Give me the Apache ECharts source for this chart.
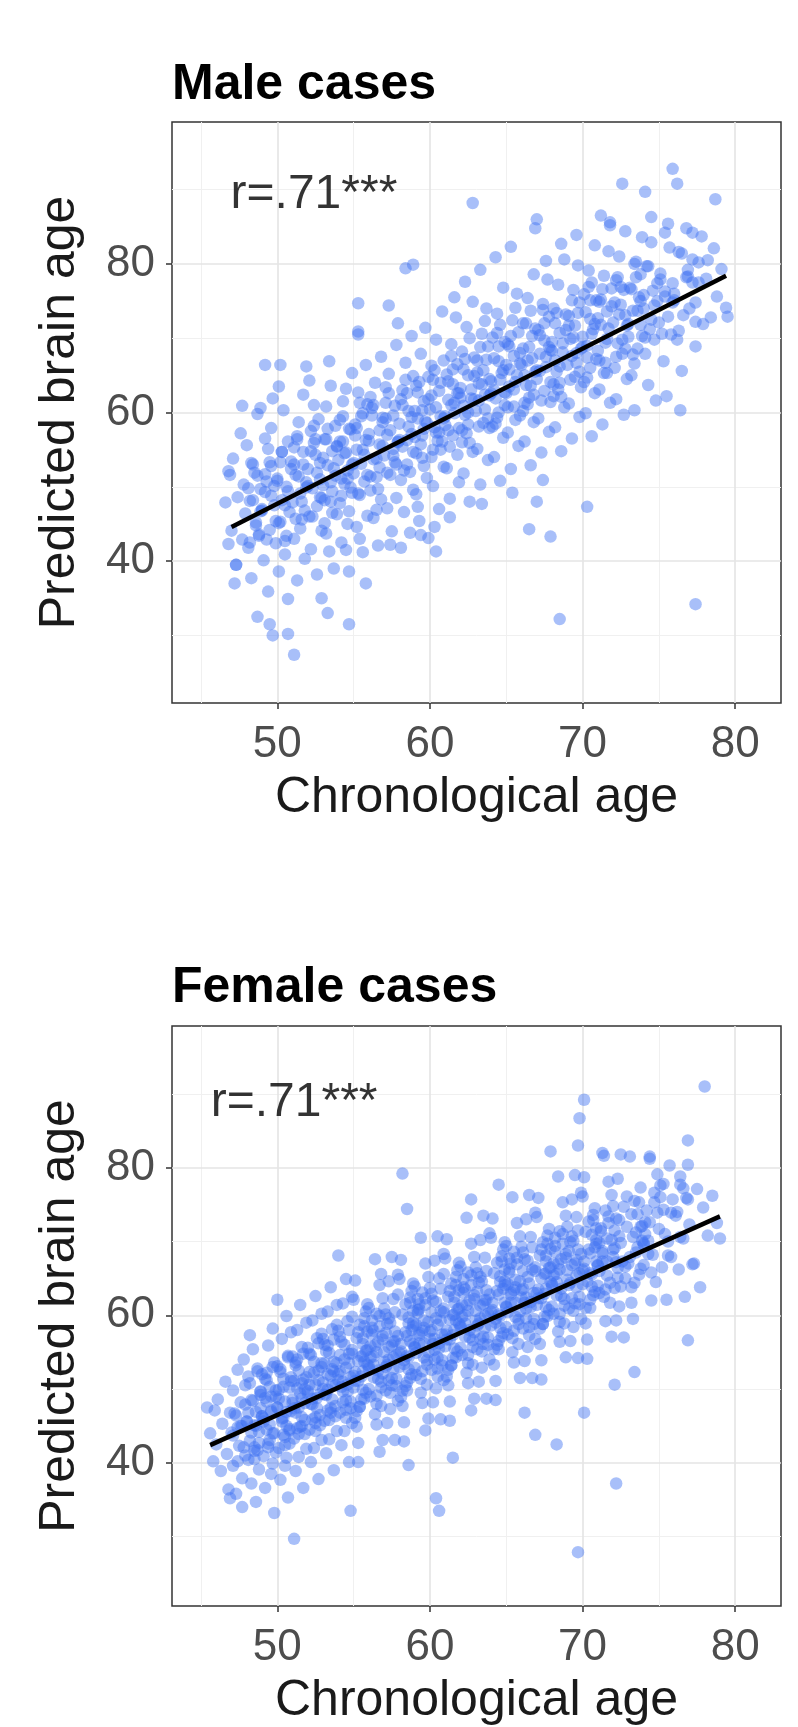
<!DOCTYPE html>
<html style="height: 100%">
<head>
	<meta charset="utf-8">
</head>
<body style="height: 100%; margin: 0; background: #fff">
<div id="container" style="width: 798px; height: 1727px"></div>
<script type="text/javascript" src="https://cdn.jsdelivr.net/npm/echarts@6/dist/echarts.min.js"></script>
<script type="text/javascript">
    // axis ticks and grid lines
    var xTicks = [50, 60, 70, 80];
    var xMinor = [45, 55, 65, 75];
    var yTicks = [40, 60, 80];
    var yMinor = [30, 50, 70, 90];

    var panelTitles = ['Male cases', 'Female cases'];
    var corrText = ['r=.71***', 'r=.71***'];

    // fitted lines (end points)
    var maleFit = [[47.0, 44.6], [79.4, 78.4]];
    var femaleFit = [[45.6, 42.4], [79.0, 73.4]];

    // points (chronological age, predicted brain age)
    var malePoints = [
        [46.6,47.9],[46.8,42.3],[46.9,51.6],
        [47.0,44.1],[47.1,53.8],[47.3,39.5],[47.4,48.6],[47.6,57.2],[47.7,42.9],[47.8,50.3],[47.9,46.4],
        [48.0,55.6],[48.1,41.8],[48.2,48.1],[48.3,37.7],[48.5,51.9],[48.6,45.2],[48.7,59.8],[48.8,43.4],[48.9,49.7],[48.4,53.0],
        [49.0,46.8],[49.1,40.1],[49.2,56.5],[49.3,50.7],[49.4,35.9],[49.5,44.2],[49.6,52.8],[49.7,61.9],[49.8,47.5],[49.9,42.4],[49.2,49.3],[49.6,57.9],
        [50.0,51.1],[50.1,38.6],[50.2,45.3],[50.3,54.7],[50.3,48.2],[50.4,60.3],[50.5,42.7],[50.6,50.0],[50.7,34.9],[50.7,56.1],[50.8,46.6],[50.9,53.4],[50.1,63.5],[50.5,40.9],
        [51.0,47.9],[51.1,55.3],[51.1,43.0],[51.2,51.6],[51.3,37.4],[51.4,58.7],[51.5,49.1],[51.6,45.6],[51.7,62.4],[51.7,53.0],[51.8,40.3],[51.9,50.6],[51.3,56.8],[51.5,44.4],[51.9,66.2],
        [52.0,52.4],[52.1,46.0],[52.2,57.5],[52.2,41.6],[52.3,49.8],[52.4,61.0],[52.5,54.3],[52.6,38.2],[52.6,47.4],[52.7,59.1],[52.8,51.0],[52.9,44.1],[52.1,64.3],[52.4,55.9],[52.8,48.6],[52.9,35.0],
        [53.0,50.2],[53.1,56.4],[53.1,45.1],[53.2,60.8],[53.3,52.9],[53.4,41.3],[53.5,48.0],[53.5,63.6],[53.6,54.8],[53.7,39.0],[53.8,51.5],[53.8,58.2],[53.9,46.3],[53.2,43.7],[53.4,66.9],[53.6,49.4],[53.9,55.4],
        [54.0,53.6],[54.1,47.8],[54.1,59.0],[54.2,42.5],[54.3,56.1],[54.4,50.4],[54.5,63.2],[54.6,45.0],[54.6,52.2],[54.7,38.6],[54.8,57.7],[54.9,49.2],[54.3,61.5],[54.5,54.6],[54.7,46.7],[54.9,65.3],[54.2,51.1],
        [55.0,51.8],[55.1,58.4],[55.2,44.6],[55.2,55.0],[55.3,62.7],[55.4,48.9],[55.5,53.1],[55.6,41.2],[55.6,59.9],[55.7,50.7],[55.8,66.4],[55.9,46.1],[55.1,56.9],[55.4,43.0],[55.7,54.3],[55.9,61.1],[55.3,70.5],
        [56.0,56.2],[56.1,49.5],[56.2,60.6],[56.3,45.8],[56.3,53.7],[56.4,64.0],[56.5,51.3],[56.6,42.1],[56.7,57.6],[56.8,48.3],[56.8,67.5],[56.9,55.5],[56.1,62.1],[56.5,46.9],[56.7,52.6],[56.9,59.3],
        [57.0,54.2],[57.1,61.3],[57.2,47.1],[57.2,57.0],[57.3,65.2],[57.4,51.6],[57.5,44.0],[57.6,59.6],[57.7,53.3],[57.8,69.1],[57.8,48.5],[57.9,56.0],[57.1,63.4],[57.4,42.2],[57.6,55.1],[57.9,72.0],
        [58.0,58.5],[58.1,50.9],[58.2,63.0],[58.2,55.4],[58.3,46.6],[58.4,66.7],[58.5,53.0],[58.6,60.2],[58.7,43.8],[58.8,57.1],[58.8,70.3],[58.9,49.6],[58.1,61.8],[58.5,56.3],[58.7,52.0],[58.9,64.9],
        [59.0,56.7],[59.1,63.6],[59.1,49.0],[59.2,59.2],[59.3,45.4],[59.4,67.9],[59.5,53.9],[59.6,61.5],[59.6,57.8],[59.7,71.4],[59.8,51.2],[59.9,64.8],[59.2,47.3],[59.4,55.7],[59.5,60.3],[59.8,58.6],[59.9,43.1],
        [60.0,60.4],[60.1,54.0],[60.1,66.3],[60.2,50.1],[60.3,58.0],[60.4,69.8],[60.5,56.2],[60.6,62.9],[60.6,47.0],[60.7,59.5],[60.8,73.6],[60.9,52.7],[60.2,64.4],[60.4,57.3],[60.7,55.0],[60.9,67.0],[60.3,44.6],
        [61.0,58.3],[61.1,65.1],[61.1,52.5],[61.2,61.7],[61.3,48.4],[61.4,69.2],[61.5,56.9],[61.5,63.8],[61.6,59.9],[61.7,72.8],[61.8,54.3],[61.8,66.5],[61.9,50.6],[61.2,57.6],[61.4,61.0],[61.6,75.5],[61.9,62.6],[61.3,45.9],
        [62.0,62.0],[62.1,56.0],[62.1,68.2],[62.2,51.8],[62.3,59.7],[62.4,71.5],[62.5,65.0],[62.5,58.4],[62.6,48.0],[62.7,63.1],[62.8,74.9],[62.8,54.7],[62.9,67.4],[62.2,60.9],[62.4,57.2],[62.6,70.0],[62.9,61.8],[62.3,77.6],
        [63.0,60.2],[63.1,67.0],[63.1,55.1],[63.2,63.9],[63.3,50.3],[63.4,70.6],[63.5,58.6],[63.5,65.7],[63.6,62.4],[63.7,74.0],[63.8,53.6],[63.8,68.9],[63.9,57.9],[63.2,61.6],[63.4,47.7],[63.6,72.3],[63.9,64.5],[63.3,79.2],
        [64.0,64.2],[64.1,58.1],[64.1,70.1],[64.2,54.0],[64.3,61.9],[64.4,73.3],[64.5,66.9],[64.5,60.0],[64.6,50.8],[64.7,65.3],[64.8,76.8],[64.8,56.6],[64.9,69.5],[64.2,63.0],[64.4,59.3],[64.6,71.8],[64.9,62.7],[64.3,80.9],
        [65.0,62.6],[65.1,69.2],[65.1,57.3],[65.2,65.8],[65.3,52.4],[65.4,72.4],[65.5,60.8],[65.5,67.6],[65.6,64.1],[65.7,76.0],[65.8,55.5],[65.8,70.8],[65.9,59.6],[65.2,63.5],[65.4,49.2],[65.6,74.1],[65.9,66.6],[65.3,82.3],
        [66.0,66.4],[66.1,60.2],[66.1,72.0],[66.2,56.1],[66.3,63.7],[66.4,75.4],[66.5,68.8],[66.5,62.0],[66.6,52.9],[66.7,67.3],[66.8,78.6],[66.8,58.7],[66.9,71.3],[66.2,65.0],[66.4,61.1],[66.6,73.7],[66.9,84.8],
        [67.0,64.5],[67.1,71.1],[67.1,59.2],[67.2,67.9],[67.3,54.6],[67.4,74.6],[67.5,62.9],[67.5,69.7],[67.6,66.1],[67.7,77.9],[67.8,57.4],[67.8,72.9],[67.9,61.4],[67.2,65.6],[67.4,50.9],[67.6,80.4],[67.9,68.4],
        [68.0,68.3],[68.1,62.2],[68.1,74.0],[68.2,58.0],[68.3,65.5],[68.4,77.2],[68.5,70.7],[68.5,64.0],[68.6,54.8],[68.7,69.3],[68.8,80.6],[68.8,60.7],[68.9,73.2],[68.2,67.0],[68.4,63.1],[68.6,82.7],
        [69.0,66.4],[69.1,73.0],[69.1,61.2],[69.2,69.9],[69.3,56.5],[69.4,76.5],[69.5,64.8],[69.5,71.7],[69.6,68.0],[69.7,79.8],[69.8,59.4],[69.8,74.8],[69.9,63.4],[69.3,67.6],[69.6,83.9],
        [70.0,70.2],[70.1,64.1],[70.1,75.9],[70.2,59.9],[70.3,67.4],[70.4,79.1],[70.5,72.6],[70.5,66.0],[70.6,56.8],[70.7,71.2],[70.8,82.5],[70.8,62.6],[70.9,75.1],[70.3,69.0],[70.6,77.5],
        [71.0,68.3],[71.1,74.9],[71.1,63.1],[71.2,71.8],[71.3,58.4],[71.4,78.4],[71.5,66.7],[71.6,73.6],[71.6,69.9],[71.7,81.7],[71.8,61.3],[71.9,76.7],[71.4,65.3],[71.8,85.6],
        [72.0,72.1],[72.1,66.0],[72.2,77.8],[72.2,61.8],[72.3,69.3],[72.4,81.0],[72.5,74.5],[72.6,67.9],[72.7,59.7],[72.8,73.1],[72.8,84.4],[72.9,64.5],[72.5,76.9],
        [73.0,70.2],[73.1,76.8],[73.2,65.0],[73.3,73.7],[73.4,60.3],[73.5,80.3],[73.6,68.6],[73.7,75.5],[73.8,71.8],[73.9,83.6],[73.4,66.6],[73.8,78.6],
        [74.0,74.0],[74.1,67.9],[74.2,79.7],[74.3,63.7],[74.4,71.2],[74.5,82.9],[74.6,76.4],[74.7,69.8],[74.8,61.6],[74.9,75.0],[74.5,86.3],
        [75.0,72.1],[75.1,78.7],[75.3,66.9],[75.4,75.6],[75.5,62.2],[75.7,82.2],[75.8,70.5],[75.9,77.4],[75.6,85.4],
        [76.0,76.0],[76.2,69.8],[76.3,81.6],[76.5,65.6],[76.6,73.1],[76.8,84.8],[76.9,78.3],[76.4,60.3],
        [77.0,74.0],[77.2,80.6],[77.4,68.9],[77.6,77.5],[77.8,83.7],[77.9,71.9],
        [78.1,78.0],[78.4,72.8],[78.6,82.1],[78.8,75.6],[79.1,79.3],[79.4,74.1],
        // denser core of the band
        [48.2,42.5],[48.6,44.8],[48.9,46.7],[48.4,48.2],[48.1,49.8],[48.7,51.5],[48.3,53.2],[48.8,43.6],
        [49.5,53.3],[49.0,47.0],[49.8,50.1],[49.3,42.9],[49.6,48.8],[49.2,51.7],[49.9,45.4],[49.4,55.1],
        [50.7,49.4],[50.3,54.7],[50.1,45.1],[50.9,52.4],[50.5,47.5],[50.0,50.8],[50.6,43.4],[50.2,53.3],
        [51.2,45.7],[51.6,48.0],[51.9,49.9],[51.4,51.4],[51.1,53.0],[51.7,54.7],[51.3,56.4],[51.8,46.8],
        [52.5,56.4],[52.0,50.1],[52.8,53.2],[52.3,46.0],[52.6,51.9],[52.2,54.8],[52.9,48.5],[52.4,58.2],
        [53.7,52.5],[53.3,57.8],[53.1,48.2],[53.9,55.5],[53.5,50.6],[53.0,53.9],[53.6,46.5],[53.2,56.4],
        [54.2,48.8],[54.6,51.1],[54.9,53.0],[54.4,54.5],[54.1,56.1],[54.7,57.8],[54.3,59.5],[54.8,49.9],
        [55.5,59.5],[55.0,53.2],[55.8,56.3],[55.3,49.1],[55.6,55.0],[55.2,57.9],[55.9,51.6],[55.4,61.3],
        [56.7,55.7],[56.3,61.0],[56.1,51.4],[56.9,58.7],[56.5,53.8],[56.0,57.1],[56.6,49.7],[56.2,59.6],
        [57.2,51.9],[57.6,54.2],[57.9,56.1],[57.4,57.6],[57.1,59.2],[57.7,60.9],[57.3,62.6],[57.8,53.0],
        [58.5,62.6],[58.0,56.3],[58.8,59.4],[58.3,52.2],[58.6,58.1],[58.2,61.0],[58.9,54.7],[58.4,64.4],
        [59.7,58.8],[59.3,64.1],[59.1,54.5],[59.9,61.8],[59.5,56.9],[59.0,60.2],[59.6,52.8],[59.2,62.7],
        [60.2,55.0],[60.6,57.3],[60.9,59.2],[60.4,60.7],[60.1,62.3],[60.7,64.0],[60.3,65.7],[60.8,56.1],
        [61.5,65.8],[61.0,59.5],[61.8,62.6],[61.3,55.4],[61.6,61.3],[61.2,64.2],[61.9,57.9],[61.4,67.6],
        [62.7,61.9],[62.3,67.2],[62.1,57.6],[62.9,64.9],[62.5,60.0],[62.0,63.3],[62.6,55.9],[62.2,65.8],
        [63.2,58.1],[63.6,60.4],[63.9,62.3],[63.4,63.8],[63.1,65.4],[63.7,67.1],[63.3,68.8],[63.8,59.2],
        [64.5,68.9],[64.0,62.6],[64.8,65.7],[64.3,58.5],[64.6,64.4],[64.2,67.3],[64.9,61.0],[64.4,70.7],
        [65.7,65.0],[65.3,70.3],[65.1,60.7],[65.9,68.0],[65.5,63.1],[65.0,66.4],[65.6,59.0],[65.2,68.9],
        [66.2,61.3],[66.6,63.6],[66.9,65.5],[66.4,67.0],[66.1,68.6],[66.7,70.3],[66.3,72.0],[66.8,62.4],
        [67.5,72.0],[67.0,65.7],[67.8,68.8],[67.3,61.6],[67.6,67.5],[67.2,70.4],[67.9,64.1],[67.4,73.8],
        [68.7,68.1],[68.3,73.4],[68.1,63.8],[68.9,71.1],[68.5,66.2],[68.0,69.5],[68.6,62.1],[68.2,72.0],
        [69.2,64.4],[69.6,66.7],[69.9,68.6],[69.4,70.1],[69.1,71.7],[69.7,73.4],[69.3,75.1],[69.8,65.5],
        [70.5,75.1],[70.0,68.8],[70.8,71.9],[70.3,64.7],[70.6,70.6],[70.2,73.5],[70.9,67.2],[70.4,76.9],
        [71.7,71.3],[71.3,76.6],[71.1,67.0],[71.9,74.3],[71.5,69.4],[71.0,72.7],[71.6,65.3],[71.2,75.2],
        [72.2,67.5],[72.6,69.8],[72.9,71.7],[72.4,73.2],[72.1,74.8],[72.7,76.5],[72.3,78.2],[72.8,68.6],
        [73.5,78.2],[73.0,71.9],[73.8,75.0],[73.3,67.8],[73.6,73.7],[73.2,76.6],[73.9,70.3],[73.4,80.0],
        [74.7,74.4],[74.3,79.7],[74.1,70.1],[74.9,77.4],[74.5,72.5],[74.0,75.8],
        [75.2,70.6],[75.6,72.9],[75.9,74.8],[75.4,76.3],[75.1,77.9],
        [76.5,81.4],[76.0,75.1],[76.8,78.2],[76.3,71.0],[77.2,77.5],[77.6,80.2],[77.4,74.8],
        // scattered points away from the band
        [72.6,90.8],[74.1,89.7],[75.9,92.8],[76.2,90.8],[78.7,88.7],[62.8,88.2],[67.0,86.0],[71.2,86.5],
        [71.8,85.2],[58.4,79.4],[58.9,79.9],[55.3,74.7],[57.3,74.4],[55.3,70.9],[79.5,72.9],[49.2,66.4],
        [50.2,66.4],[47.7,60.9],[48.9,60.6],[46.8,52.1],[47.2,37.0],[47.3,39.5],[48.7,32.5],[49.5,31.5],
        [49.7,30.0],[50.7,30.2],[51.1,27.4],[53.3,33.0],[54.7,31.5],[77.4,34.2],[68.5,32.2],[66.5,44.3],
        [67.9,43.3],[70.3,47.3],[67.0,48.0],[60.4,41.3],[58.1,41.8],[59.4,43.5],[55.8,37.0],[54.5,41.5],
        [75.4,84.2],[77.2,84.2],[76.9,79.2],[77.4,72.2],[78.2,80.5]
    ];

    var femalePoints = [
        [45.6,44.0],[45.8,40.2],[45.9,47.1],
        [46.0,42.5],[46.1,48.6],[46.3,38.9],[46.4,45.3],[46.6,51.0],[46.7,41.2],[46.8,36.4],[46.9,46.8],
        [47.0,44.1],[47.1,49.8],[47.1,39.6],[47.2,46.7],[47.3,35.8],[47.4,52.6],[47.5,42.3],[47.6,48.2],[47.7,37.9],[47.7,45.0],[47.8,54.0],[47.9,41.0],[47.4,44.8],[47.9,50.5],
        [48.0,45.6],[48.1,40.4],[48.1,51.7],[48.2,43.0],[48.3,37.2],[48.3,48.5],[48.4,55.4],[48.5,42.1],[48.6,46.9],[48.6,34.7],[48.7,52.8],[48.8,44.2],[48.8,39.1],[48.9,49.6],[48.2,57.3],[48.5,45.1],[48.7,41.7],[48.9,47.4],
        [49.0,46.3],[49.0,52.0],[49.1,40.9],[49.2,48.8],[49.2,36.6],[49.3,44.5],[49.4,55.9],[49.4,42.6],[49.5,50.3],[49.6,38.5],[49.6,47.1],[49.7,58.2],[49.7,44.0],[49.8,53.6],[49.8,33.2],[49.9,49.0],[49.9,41.4],[49.1,46.0],[49.3,51.2],[49.5,45.2],[49.7,39.9],
        [50.0,47.5],[50.0,53.1],[50.1,42.0],[50.1,49.9],[50.2,37.7],[50.3,45.6],[50.3,56.8],[50.4,43.8],[50.4,51.4],[50.5,39.6],[50.5,48.3],[50.6,59.9],[50.6,45.0],[50.7,54.5],[50.7,35.3],[50.8,50.2],[50.8,42.6],[50.9,47.0],[50.9,57.7],[50.2,52.3],[50.4,46.1],[50.6,40.7],[50.8,44.4],
        [51.0,48.6],[51.0,54.4],[51.1,43.3],[51.1,51.1],[51.2,38.9],[51.2,46.8],[51.3,58.0],[51.3,44.7],[51.4,52.5],[51.4,40.8],[51.5,49.4],[51.5,61.4],[51.6,46.2],[51.6,55.7],[51.7,36.6],[51.7,51.3],[51.8,43.9],[51.8,48.1],[51.9,59.0],[51.9,41.9],[51.2,53.6],[51.4,47.5],[51.6,45.0],[51.8,50.0],
        [52.0,49.7],[52.0,55.6],[52.1,44.5],[52.1,52.3],[52.2,40.1],[52.2,48.0],[52.3,59.3],[52.3,45.9],[52.4,53.7],[52.4,42.0],[52.5,50.6],[52.5,62.6],[52.6,47.4],[52.6,56.9],[52.7,37.8],[52.7,52.5],[52.8,45.1],[52.8,49.3],[52.9,60.2],[52.9,43.1],[52.1,54.8],[52.3,48.7],[52.5,46.2],[52.7,51.2],[52.9,57.5],
        [53.0,50.9],[53.0,56.8],[53.1,45.7],[53.1,53.5],[53.2,41.3],[53.2,49.2],[53.3,60.5],[53.3,47.1],[53.4,54.9],[53.4,43.2],[53.5,51.8],[53.5,63.8],[53.6,48.6],[53.6,58.1],[53.7,39.0],[53.7,53.7],[53.8,46.3],[53.8,50.5],[53.9,61.4],[53.9,44.3],[53.1,56.0],[53.3,49.9],[53.5,47.4],[53.7,52.4],[53.9,58.7],
        [54.0,52.0],[54.0,57.9],[54.1,46.8],[54.1,54.6],[54.2,42.4],[54.2,50.3],[54.3,61.6],[54.3,48.2],[54.4,56.0],[54.4,44.3],[54.5,52.9],[54.5,64.9],[54.6,49.7],[54.6,59.2],[54.7,40.1],[54.7,54.8],[54.8,47.4],[54.8,51.6],[54.9,62.5],[54.9,45.4],[54.1,57.1],[54.3,51.0],[54.5,48.5],[54.7,53.5],[54.9,59.8],
        [55.5,54.4],[55.2,47.0],[55.8,60.5],[55.0,50.2],[55.6,56.9],[55.3,42.7],[55.9,53.3],[55.1,64.7],[55.7,48.7],[55.4,58.7],[55.5,51.7],[55.2,44.9],[55.8,55.2],[55.0,62.1],[55.6,49.9],[55.3,40.1],[55.9,57.8],[55.1,52.3],[55.7,59.6],[55.4,47.6],[55.6,56.1],[55.3,51.1],[55.9,61.5],[55.1,46.1],[55.7,53.7],
        [56.3,53.3],[56.7,58.5],[56.0,50.0],[56.9,62.3],[56.5,45.2],[56.1,55.8],[56.6,51.4],[56.4,67.6],[56.8,47.7],[56.2,57.4],[56.0,52.8],[56.5,60.2],[56.9,43.1],[56.3,54.4],[56.7,64.1],[56.1,49.0],[56.6,56.4],[56.8,51.0],[56.2,59.3],[56.4,46.6],[56.5,55.0],[56.0,61.0],[56.9,52.1],[56.3,57.9],[56.7,41.5],
        [57.0,55.0],[57.0,60.9],[57.1,49.8],[57.1,57.6],[57.2,45.4],[57.2,53.3],[57.3,64.6],[57.3,51.2],[57.4,59.0],[57.4,47.3],[57.5,55.9],[57.5,67.9],[57.6,52.7],[57.6,62.2],[57.7,43.1],[57.7,57.8],[57.8,50.4],[57.8,54.6],[57.9,65.5],[57.9,48.4],[57.1,60.1],[57.3,54.0],[57.5,51.5],[57.7,56.5],[57.9,62.8],
        [58.5,57.2],[58.2,49.8],[58.8,63.3],[58.0,53.0],[58.6,59.7],[58.3,45.5],[58.9,56.1],[58.1,67.5],[58.7,51.5],[58.4,61.5],[58.5,54.5],[58.2,47.7],[58.8,58.0],[58.0,64.9],[58.6,52.7],[58.3,42.9],[58.9,60.6],[58.1,55.1],[58.7,62.4],[58.4,50.4],[58.6,58.9],[58.3,53.9],[58.9,64.3],[58.1,48.9],[58.7,56.5],
        [59.3,56.2],[59.7,61.4],[59.0,52.9],[59.9,65.2],[59.5,48.1],[59.1,58.7],[59.6,54.3],[59.4,70.5],[59.8,50.6],[59.2,60.3],[59.0,55.7],[59.5,63.1],[59.9,46.0],[59.3,57.3],[59.7,67.0],[59.1,51.9],[59.6,59.3],[59.8,53.9],[59.2,62.2],[59.4,49.5],[59.5,57.9],[59.0,63.9],[59.9,55.0],[59.3,60.8],[59.7,44.4],
        [60.0,57.8],[60.0,63.7],[60.1,52.6],[60.1,60.4],[60.2,48.2],[60.2,56.1],[60.3,67.4],[60.3,54.0],[60.4,61.8],[60.4,50.1],[60.5,58.7],[60.5,70.7],[60.6,55.5],[60.6,65.0],[60.7,45.9],[60.7,60.6],[60.8,53.2],[60.8,57.4],[60.9,68.3],[60.9,51.2],[60.1,62.9],[60.3,56.8],[60.5,54.3],[60.7,59.3],[60.9,65.6],
        [61.5,60.0],[61.2,52.6],[61.8,66.1],[61.0,55.8],[61.6,62.5],[61.3,48.3],[61.9,58.9],[61.1,70.3],[61.7,54.3],[61.4,64.3],[61.5,57.3],[61.2,50.5],[61.8,60.8],[61.0,67.7],[61.6,55.5],[61.3,45.7],[61.9,63.4],[61.1,57.9],[61.7,65.2],[61.4,53.2],[61.6,61.7],[61.3,56.7],[61.9,67.1],[61.1,51.7],[61.7,59.3],
        [62.3,58.9],[62.7,64.1],[62.0,55.6],[62.9,67.9],[62.5,50.8],[62.1,61.4],[62.6,57.0],[62.4,73.2],[62.8,53.3],[62.2,63.0],[62.0,58.4],[62.5,65.8],[62.9,48.7],[62.3,60.0],[62.7,69.7],[62.1,54.6],[62.6,62.0],[62.8,56.6],[62.2,64.9],[62.4,52.2],[62.5,60.6],[62.0,66.6],[62.9,57.7],[62.3,63.5],[62.7,47.1],
        [63.0,60.6],[63.0,66.5],[63.1,55.4],[63.1,63.2],[63.2,51.0],[63.2,58.9],[63.3,70.2],[63.3,56.8],[63.4,64.6],[63.4,52.9],[63.5,61.5],[63.5,73.5],[63.6,58.3],[63.6,67.8],[63.7,48.7],[63.7,63.4],[63.8,56.0],[63.8,60.2],[63.9,71.1],[63.9,54.0],[63.1,65.7],[63.3,59.6],[63.5,57.1],[63.7,62.1],
        [64.5,62.8],[64.2,55.4],[64.8,68.9],[64.0,58.6],[64.6,65.3],[64.3,51.1],[64.9,61.7],[64.1,73.1],[64.7,57.1],[64.4,67.1],[64.5,60.1],[64.2,53.3],[64.8,63.6],[64.0,70.5],[64.6,58.3],[64.3,48.5],[64.9,66.2],[64.1,60.7],[64.7,68.0],[64.4,56.0],[64.6,64.5],[64.3,59.5],[64.9,69.9],
        [65.3,61.7],[65.7,66.9],[65.0,58.4],[65.9,70.7],[65.5,53.6],[65.1,64.2],[65.6,59.8],[65.4,76.0],[65.8,56.1],[65.2,65.8],[65.0,61.2],[65.5,68.6],[65.9,51.5],[65.3,62.8],[65.7,72.5],[65.1,57.4],[65.6,64.8],[65.8,59.4],[65.2,67.7],[65.4,55.0],[65.5,63.4],[65.0,69.4],[65.9,60.5],
        [66.0,63.4],[66.0,69.3],[66.1,58.2],[66.1,66.0],[66.2,53.8],[66.2,61.7],[66.3,73.0],[66.3,59.6],[66.4,67.4],[66.4,55.7],[66.5,64.3],[66.5,76.3],[66.6,61.1],[66.6,70.6],[66.7,51.5],[66.7,66.2],[66.8,58.8],[66.8,63.0],[66.9,73.9],[66.9,56.8],[66.1,68.5],[66.3,62.4],
        [67.5,65.6],[67.2,58.2],[67.8,71.7],[67.0,61.4],[67.6,68.1],[67.3,53.9],[67.9,64.5],[67.1,75.9],[67.7,59.9],[67.4,69.9],[67.5,62.9],[67.2,56.1],[67.8,66.4],[67.0,73.3],[67.6,61.1],[67.3,51.3],[67.9,69.0],[67.1,63.5],[67.7,70.8],[67.4,58.8],[67.6,67.3],[67.3,62.3],
        [68.3,64.5],[68.7,69.7],[68.0,61.2],[68.9,73.5],[68.5,56.4],[68.1,67.0],[68.6,62.6],[68.4,78.8],[68.8,58.9],[68.2,68.6],[68.0,64.0],[68.5,71.4],[68.9,54.3],[68.3,65.6],[68.7,75.3],[68.1,60.2],[68.6,67.6],[68.8,62.2],[68.2,70.5],[68.4,57.8],[68.5,66.2],
        [69.0,66.1],[69.0,72.0],[69.1,60.9],[69.1,68.7],[69.2,56.5],[69.2,64.4],[69.3,75.7],[69.3,62.3],[69.4,70.1],[69.4,58.4],[69.5,67.0],[69.5,79.0],[69.6,63.8],[69.6,73.3],[69.7,54.2],[69.7,68.9],[69.8,61.5],[69.8,65.7],[69.9,76.6],[69.9,59.5],
        [70.5,68.4],[70.2,61.0],[70.8,74.5],[70.0,64.2],[70.6,70.9],[70.3,56.7],[70.9,67.3],[70.1,78.7],[70.7,62.7],[70.4,72.7],[70.5,65.7],[70.2,58.9],[70.8,69.2],[70.0,76.1],[70.6,63.9],[70.3,54.1],[70.9,71.8],[70.1,66.3],[70.7,73.6],
        [71.3,67.3],[71.7,72.5],[71.0,64.0],[71.9,76.3],[71.5,59.2],[71.1,69.8],[71.6,65.4],[71.4,81.6],[71.8,61.7],[71.2,71.4],[71.0,66.8],[71.5,74.2],[71.9,57.1],[71.3,68.4],[71.7,78.1],[71.1,63.0],[71.6,70.4],
        [72.0,68.9],[72.0,74.8],[72.1,63.7],[72.1,71.5],[72.2,59.3],[72.2,67.2],[72.3,78.5],[72.3,65.1],[72.4,72.9],[72.4,61.2],[72.5,69.8],[72.5,81.8],[72.8,66.6],[72.9,76.1],[72.7,57.0],
        [73.5,71.2],[73.2,63.8],[73.8,77.3],[73.0,67.0],[73.6,73.7],[73.3,59.5],[73.9,70.1],[73.1,81.5],[73.7,65.5],[73.4,75.5],[73.5,68.5],[73.2,61.7],[73.8,72.0],
        [74.3,70.1],[74.7,75.3],[74.0,66.8],[74.9,79.1],[74.5,62.0],[74.1,72.6],[74.6,68.2],[74.4,81.2],[74.8,64.5],[74.2,74.2],[74.0,69.6],
        [75.0,71.7],[75.1,77.6],[75.2,66.5],[75.3,74.3],[75.5,62.1],[75.6,70.0],[75.7,80.3],[75.8,67.9],[75.9,75.7],
        [76.1,73.5],[76.3,66.2],[76.4,78.8],[76.6,70.4],[76.7,62.5],[76.8,75.9],[76.9,80.4],
        [77.0,72.3],[77.3,67.0],[77.5,77.1],[77.7,63.8],[77.9,74.6],
        [78.2,70.8],[78.5,76.2],[78.8,72.5],
        // denser core of the band
        [47.4,40.2],[47.8,42.1],[47.1,43.7],[47.6,45.0],[47.3,46.4],[47.9,47.9],
        [48.1,46.8],[48.5,41.6],[48.9,49.7],[48.3,44.1],[48.7,52.4],[48.0,45.6],[48.4,48.4],[48.8,42.7],[48.2,50.8],[48.6,45.0],[48.9,49.2],[48.5,40.5],
        [49.4,42.1],[49.8,44.0],[49.1,45.6],[49.6,46.9],[49.3,48.3],[49.9,49.8],[49.2,51.4],[49.7,53.0],[49.5,43.1],[49.0,46.3],[49.6,49.0],[49.3,52.2],
        [50.1,48.7],[50.5,43.5],[50.9,51.6],[50.3,46.0],[50.7,54.3],[50.0,47.5],[50.4,50.3],[50.8,44.6],[50.2,52.7],[50.6,46.9],[50.9,51.1],[50.5,42.4],
        [51.4,43.9],[51.8,45.8],[51.1,47.4],[51.6,48.7],[51.3,50.1],[51.9,51.6],[51.2,53.2],[51.7,54.8],[51.5,44.9],[51.0,48.1],[51.6,50.8],[51.3,54.0],
        [52.1,50.6],[52.5,45.4],[52.9,53.5],[52.3,47.9],[52.7,56.2],[52.0,49.4],[52.4,52.2],[52.8,46.5],[52.2,54.6],[52.6,48.8],[52.9,53.0],[52.5,44.3],
        [53.4,45.8],[53.8,47.7],[53.1,49.3],[53.6,50.6],[53.3,52.0],[53.9,53.5],[53.2,55.1],[53.7,56.7],[53.5,46.8],[53.0,50.0],[53.6,52.7],[53.3,55.9],
        [54.1,52.4],[54.5,47.2],[54.9,55.3],[54.3,49.7],[54.7,58.0],[54.0,51.2],[54.4,54.0],[54.8,48.3],[54.2,56.4],[54.6,50.6],[54.9,54.8],[54.5,46.1],
        [55.4,47.6],[55.8,49.5],[55.1,51.1],[55.6,52.4],[55.3,53.8],[55.9,55.3],[55.2,56.9],[55.7,58.5],[55.5,48.6],[55.0,51.8],[55.6,54.5],[55.3,57.7],
        [56.1,54.3],[56.5,49.1],[56.9,57.2],[56.3,51.6],[56.7,59.9],[56.0,53.1],[56.4,55.9],[56.8,50.2],[56.2,58.3],[56.6,52.5],[56.9,56.7],[56.5,48.0],
        [57.4,49.5],[57.8,51.4],[57.1,53.0],[57.6,54.3],[57.3,55.7],[57.9,57.2],[57.2,58.8],[57.7,60.4],[57.5,50.5],[57.0,53.7],[57.6,56.4],[57.3,59.6],
        [58.1,56.1],[58.5,50.9],[58.9,59.0],[58.3,53.4],[58.7,61.7],[58.0,54.9],[58.4,57.7],[58.8,52.0],[58.2,60.1],[58.6,54.3],[58.9,58.5],[58.5,49.8],
        [59.4,51.4],[59.8,53.3],[59.1,54.9],[59.6,56.2],[59.3,57.6],[59.9,59.1],[59.2,60.7],[59.7,62.3],[59.5,52.4],[59.0,55.6],[59.6,58.3],[59.3,61.5],
        [60.1,58.0],[60.5,52.8],[60.9,60.9],[60.3,55.3],[60.7,63.6],[60.0,56.8],[60.4,59.6],[60.8,53.9],[60.2,62.0],[60.6,56.2],[60.9,60.4],[60.5,51.7],
        [61.4,53.2],[61.8,55.1],[61.1,56.7],[61.6,58.0],[61.3,59.4],[61.9,60.9],[61.2,62.5],[61.7,64.1],[61.5,54.2],[61.0,57.4],[61.6,60.1],[61.3,63.3],
        [62.1,59.8],[62.5,54.6],[62.9,62.7],[62.3,57.1],[62.7,65.4],[62.0,58.6],[62.4,61.4],[62.8,55.7],[62.2,63.8],[62.6,58.0],[62.9,62.2],[62.5,53.5],
        [63.4,55.1],[63.8,57.0],[63.1,58.6],[63.6,59.9],[63.3,61.3],[63.9,62.8],[63.2,64.4],[63.7,66.0],[63.5,56.1],[63.0,59.3],[63.6,62.0],[63.3,65.2],
        [64.1,61.7],[64.5,56.5],[64.9,64.6],[64.3,59.0],[64.7,67.3],[64.0,60.5],[64.4,63.3],[64.8,57.6],[64.2,65.7],[64.6,59.9],[64.9,64.1],[64.5,55.4],
        [65.4,56.9],[65.8,58.8],[65.1,60.4],[65.6,61.7],[65.3,63.1],[65.9,64.6],[65.2,66.2],[65.7,67.8],[65.5,57.9],[65.0,61.1],[65.6,63.8],[65.3,67.0],
        [66.1,63.6],[66.5,58.4],[66.9,66.5],[66.3,60.9],[66.7,69.2],[66.0,62.4],[66.4,65.2],[66.8,59.5],[66.2,67.6],[66.6,61.8],[66.9,66.0],[66.5,57.3],
        [67.4,58.8],[67.8,60.7],[67.1,62.3],[67.6,63.6],[67.3,65.0],[67.9,66.5],[67.2,68.1],[67.7,69.7],[67.5,59.8],[67.0,63.0],[67.6,65.7],[67.3,68.9],
        [68.1,65.4],[68.5,60.2],[68.9,68.3],[68.3,62.7],[68.7,71.0],[68.0,64.2],[68.4,67.0],[68.8,61.3],[68.2,69.4],[68.6,63.6],[68.9,67.8],[68.5,59.1],
        [69.4,60.6],[69.8,62.5],[69.1,64.1],[69.6,65.4],[69.3,66.8],[69.9,68.3],[69.2,69.9],[69.7,71.5],[69.5,61.6],[69.0,64.8],[69.6,67.5],[69.3,70.7],
        [70.1,67.3],[70.5,62.1],[70.9,70.2],[70.3,64.6],[70.7,72.9],[70.0,66.1],[70.4,68.9],[70.8,63.2],[70.2,71.3],[70.6,65.5],[70.9,69.7],[70.5,61.0],
        [71.4,62.5],[71.8,64.4],[71.1,66.0],[71.6,67.3],[71.3,68.7],[71.9,70.2],[71.2,71.8],[71.7,73.4],[71.5,63.5],[71.0,66.7],
        [72.1,69.1],[72.5,63.9],[72.9,72.0],[72.3,66.4],[72.7,74.7],[72.0,67.9],[72.4,70.7],[72.8,65.0],[72.2,73.1],[72.6,67.3],
        [73.4,64.4],[73.8,66.3],[73.1,67.9],[73.6,69.2],[73.3,70.6],[73.9,72.1],[73.2,73.7],[73.7,75.3],
        [74.1,71.0],[74.5,65.8],[74.9,73.9],[74.3,68.3],[74.7,76.6],[74.0,69.8],[74.4,72.6],
        [75.4,71.0],[75.8,73.9],[75.1,76.0],[75.6,68.1],[75.3,77.8],[76.2,74.0],[76.6,77.2],[76.4,70.6],
        // scattered points away from the band
        [78.0,91.0],[70.1,89.2],[69.8,86.7],[69.7,83.0],[58.2,79.2],[58.5,74.4],[76.9,83.7],[76.4,77.7],
        [76.9,75.7],[79.0,70.4],[77.2,66.9],[76.9,56.6],[73.4,52.3],[72.1,50.6],[72.2,37.2],[69.7,27.9],
        [70.1,46.8],[68.3,42.5],[66.9,43.8],[66.2,46.8],[60.4,35.2],[60.6,33.5],[54.8,33.5],[51.1,29.7],
        [47.7,34.0],[46.9,35.2],[45.4,47.5],[58.6,39.7],[61.5,40.7],[56.8,65.6],[54.0,68.1],[50.0,62.1],
        [62.7,75.7],[64.5,77.7],[67.9,82.2],[71.3,82.0],[74.4,81.5]
    ];

    var dom = document.getElementById("container");
    var myChart = echarts.init(dom, null, {renderer: 'canvas'});
    var font = 'Liberation Sans, Arial, sans-serif';

    // panel geometry
    var panels = [
        {top: 122, height: 581, ymin: 20.9, ymax: 99.1, labelAt: [52.4, 89.3], titleTop: 60},
        {top: 1026, height: 582, ymin: 20.6, ymax: 99.2, labelAt: [51.1, 88.8], titleTop: 963}
    ];

    function gridLines() {
        var d = [];
        xMinor.forEach(function (v) { d.push({xAxis: v, lineStyle: {width: 1, color: '#f0f0f0'}}); });
        yMinor.forEach(function (v) { d.push({yAxis: v, lineStyle: {width: 1, color: '#f0f0f0'}}); });
        xTicks.forEach(function (v) { d.push({xAxis: v, lineStyle: {width: 1.6, color: '#e4e4e4'}}); });
        yTicks.forEach(function (v) { d.push({yAxis: v, lineStyle: {width: 1.6, color: '#e4e4e4'}}); });
        return d;
    }

    var option = {
        animation: false,
        backgroundColor: '#fff',
        title: [],
        grid: [],
        xAxis: [],
        yAxis: [],
        series: []
    };

    var allPoints = [malePoints, femalePoints];
    var allFits = [maleFit, femaleFit];

    panels.forEach(function (p, i) {
        option.title.push({
            text: panelTitles[i],
            left: 172,
            top: p.titleTop,
            padding: 0,
            textStyle: {fontFamily: font, fontSize: 50, fontWeight: 'bold', color: '#000'}
        });
        option.grid.push({
            left: 172, top: p.top, width: 609, height: p.height,
            show: true, borderColor: '#333', borderWidth: 1.5, backgroundColor: 'transparent'
        });
        option.xAxis.push({
            type: 'value', gridIndex: i, min: 43.1, max: 83.0,
            name: 'Chronological age', nameLocation: 'middle', nameGap: 70,
            nameTextStyle: {fontFamily: font, fontSize: 50, color: '#1a1a1a'},
            axisLine: {show: false},
            splitLine: {show: false},
            axisTick: {show: true, length: 6, customValues: xTicks, lineStyle: {color: '#333', width: 1.5}},
            axisLabel: {customValues: xTicks, margin: 20, fontFamily: font, fontSize: 44, color: '#4d4d4d'}
        });
        option.yAxis.push({
            type: 'value', gridIndex: i, min: p.ymin, max: p.ymax,
            name: 'Predicted brain age', nameLocation: 'middle', nameGap: 87, nameRotate: 90,
            nameTextStyle: {fontFamily: font, fontSize: 50, color: '#1a1a1a'},
            axisLine: {show: false},
            splitLine: {show: false},
            axisTick: {show: true, length: 6, customValues: yTicks, lineStyle: {color: '#333', width: 1.5}},
            axisLabel: {customValues: yTicks, margin: 17, fontFamily: font, fontSize: 44, color: '#4d4d4d'}
        });
        option.series.push({
            type: 'scatter',
            xAxisIndex: i, yAxisIndex: i,
            data: allPoints[i],
            symbolSize: 12.5,
            z: 2,
            itemStyle: {color: 'rgb(62,112,242)', opacity: 0.45},
            markLine: {
                silent: true, z: 1, symbol: 'none', label: {show: false},
                lineStyle: {type: 'solid'},
                data: gridLines()
            }
        });
        option.series.push({
            type: 'line',
            xAxisIndex: i, yAxisIndex: i,
            data: allFits[i],
            symbol: 'none',
            z: 3,
            lineStyle: {color: '#000', width: 4.5}
        });
        option.series.push({
            type: 'scatter',
            xAxisIndex: i, yAxisIndex: i,
            data: [p.labelAt],
            symbolSize: 1,
            z: 4,
            itemStyle: {color: 'transparent'},
            label: {
                show: true, position: 'inside',
                formatter: corrText[i],
                fontFamily: font, fontSize: 48, color: '#000'
            }
        });
    });

    myChart.setOption(option);
</script>
</body>
</html>
